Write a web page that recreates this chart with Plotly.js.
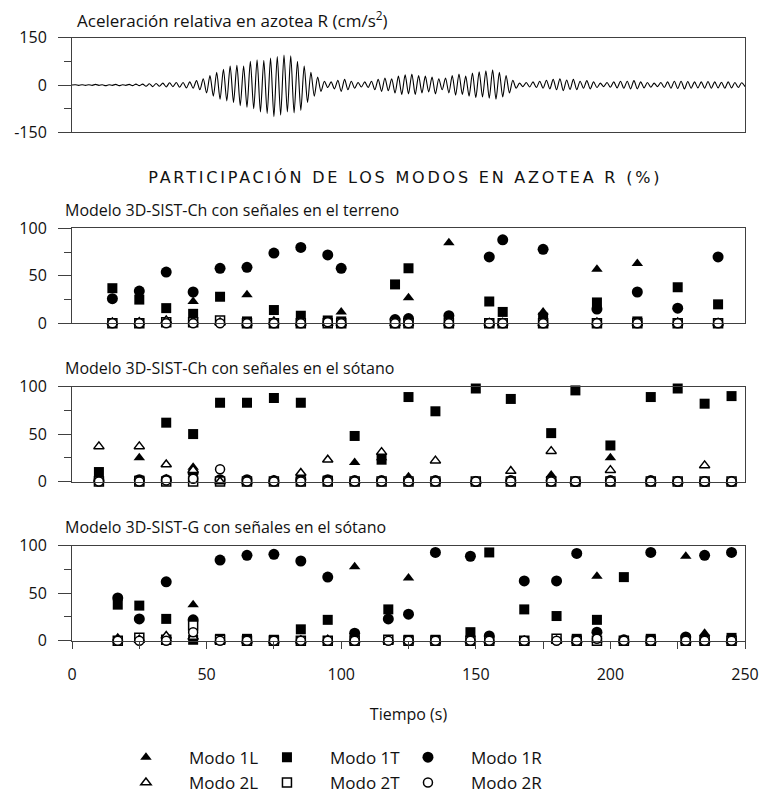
<!DOCTYPE html>
<html><head><meta charset="utf-8">
<script src="https://cdn.plot.ly/plotly-3.0.1.min.js"></script>
<style>
html,body{margin:0;padding:0;background:#fff}
#chart g.annotation[data-index="1"] text{letter-spacing:2.8px}
</style>
</head><body><div id="chart" style="width:761px;height:801px"></div>
<script>
// Acceleration record (cm/s2), peak values read every 1.25 s
const accelDt = 1.25;
const accel = [
 0,1,-1,1,-1,1,-1,2,-1,1,-2,1,-1,2,-2,1,-1,2,-2,3,-2,
 3,-4,4,-5,5,-4,6,-6,7,-5,8,-7,8,-9,10,-10,14,
 -15,20,-25,30,-35,40,-45,50,-50,60,
 -55,62,-65,60,-70,75,-75,80,-85,78,
 -90,85,-100,90,-95,95,-85,92,-88,75,
 -80,60,-55,40,-35,25,-20,12,-8,10,
 -12,15,-20,18,-15,12,-10,8,-6,10,
 -8,12,-15,18,-20,22,-18,20,-25,28,
 -30,32,-28,35,-30,30,-25,28,-22,25,
 -28,20,-15,22,-25,30,-32,35,-30,28,
 -35,38,-40,42,-38,45,-42,48,-45,40,
 -38,30,-25,15,-10,6,-5,8,-6,10,
 -8,12,-10,15,-12,18,-15,20,-18,16,
 -14,18,-15,12,-10,14,-12,10,-8,6,
 -5,8,-7,10,-9,12,-10,12,-12,14,
 -12,10,-9,8,-7,6,-5,8,-8,10,
 -10,12,-11,12,-12,11,-10,10,-9,10,
 -10,11,-10,10,-9,9,-10,10,-9,8,
 -8,7,-5
];
const accelTicks = [-150, 0, 150];
const accelTickText = ['-150', '0', '150'];

// Modelo 3D-SIST-Ch con señales en el terreno (%)
const tTerreno = [15,25,35,45,55,65,75,85,95,100,120,125,140,155,160,175,195,210,225,240];
const terreno1L = [1,2,3,23,1,30,1,1,0,12,0,27,85,1,1,12,57,63,0,1];
const terreno1T = [37,25,16,10,28,2,14,8,3,2,41,58,2,23,12,6,22,2,38,20];
const terreno1R = [26,34,54,33,58,59,74,80,72,58,4,5,8,70,88,78,15,33,16,70];
const terreno2L = [1,1,3,2,1,0,2,0,0,0,0,0,0,0,0,0,1,0,1,0];
const terreno2T = [0,0,1,1,3,0,0,0,0,0,0,0,0,0,0,0,0,0,0,0];
const terreno2R = [0,0,0,0,0,0,0,0,1,0,0,0,0,0,0,0,0,0,0,0];

// Modelo 3D-SIST-Ch con señales en el sótano (%)
const tSotanoCh = [10,25,35,45,55,65,75,85,95,105,115,125,135,150,163,178,187,200,215,225,235,245];
const sotanoCh1L = [2,25,3,15,1,1,0,1,1,20,25,5,0,0,0,7,0,25,1,0,0,0];
const sotanoCh1T = [10,1,62,50,83,83,88,83,1,48,23,89,74,98,87,51,96,38,89,98,82,90];
const sotanoCh1R = [1,2,2,9,2,2,1,2,2,1,1,1,1,0,1,1,0,1,1,0,0,0];
const sotanoCh2L = [37,37,18,12,0,0,1,9,23,0,31,0,22,0,11,32,0,12,0,0,17,0];
const sotanoCh2T = [0,0,0,0,0,0,0,0,0,0,0,0,0,0,0,0,0,0,0,0,0,0];
const sotanoCh2R = [0,0,1,3,13,0,0,0,0,0,0,0,0,0,0,0,0,0,0,0,0,0];

// Modelo 3D-SIST-G con señales en el sótano (%)
const tSotanoG = [17,25,35,45,55,65,75,85,95,105,117.5,125,135,148,155,168,180,187.5,195,205,215,228,235,245];
const sotanoG1L = [3,1,2,38,0,0,0,1,1,78,1,66,0,1,1,0,1,1,68,1,1,89,8,1];
const sotanoG1T = [38,37,23,1,2,2,1,12,22,1,33,1,1,9,93,33,26,2,22,67,2,1,1,3];
const sotanoG1R = [45,23,62,22,85,90,91,84,67,8,23,28,93,89,5,63,63,92,9,1,93,4,90,93];
const sotanoG2L = [1,1,5,4,0,0,0,0,1,0,0,0,0,0,0,0,0,0,1,0,0,0,0,0];
const sotanoG2T = [0,3,1,16,1,0,0,0,0,0,1,0,0,0,0,0,2,0,0,0,0,0,0,0];
const sotanoG2R = [0,0,0,9,0,0,0,0,0,0,0,0,0,0,0,0,0,0,2,0,0,0,0,0];

const FONT = 'Open Sans, DejaVu Sans, sans-serif';
const styles = {
  'Modo 1L': {symbol:'triangle-up', size:10, filled:true, legend:'legend', rank:1, lw:50},
  'Modo 1T': {symbol:'square', size:10, filled:true, legend:'legend', rank:2, lw:50},
  'Modo 1R': {symbol:'circle', size:11, filled:true, legend:'legend', rank:3, lw:80},
  'Modo 2L': {symbol:'triangle-up', size:9, filled:false, legend:'legend2', rank:4, lw:50},
  'Modo 2T': {symbol:'square', size:9, filled:false, legend:'legend2', rank:5, lw:50},
  'Modo 2R': {symbol:'circle', size:9, filled:false, legend:'legend2', rank:6, lw:80}
};

const panels = [
  {x: tTerreno, ys: {'Modo 1L':terreno1L,'Modo 1T':terreno1T,'Modo 1R':terreno1R,'Modo 2L':terreno2L,'Modo 2T':terreno2T,'Modo 2R':terreno2R}, ax:'2'},
  {x: tSotanoCh, ys: {'Modo 1L':sotanoCh1L,'Modo 1T':sotanoCh1T,'Modo 1R':sotanoCh1R,'Modo 2L':sotanoCh2L,'Modo 2T':sotanoCh2T,'Modo 2R':sotanoCh2R}, ax:'3'},
  {x: tSotanoG, ys: {'Modo 1L':sotanoG1L,'Modo 1T':sotanoG1T,'Modo 1R':sotanoG1R,'Modo 2L':sotanoG2L,'Modo 2T':sotanoG2T,'Modo 2R':sotanoG2R}, ax:'4'}
];

const traces = [{
  type:'scatter', mode:'lines', x0:0, dx:accelDt, y:accel,
  line:{color:'#000', width:1.1, shape:'spline', smoothing:0.8},
  xaxis:'x', yaxis:'y', showlegend:false, hoverinfo:'skip'
}];

const drawOrder = ['Modo 1L','Modo 1T','Modo 1R','Modo 2T','Modo 2L','Modo 2R'];
panels.forEach((p, pi) => {
  drawOrder.forEach(name => {
    const s = styles[name];
    traces.push({
      type:'scatter', mode:'markers', name:name,
      x:p.x, y:p.ys[name],
      xaxis:'x'+p.ax, yaxis:'y'+p.ax,
      cliponaxis:false,
      legendgroup:name, legend:s.legend, legendrank:s.rank, legendwidth:s.lw,
      showlegend: pi === 0,
      marker: s.filled
        ? {symbol:s.symbol, size:s.size, color:'#000', line:{width:0}}
        : {symbol:s.symbol, size:s.size, color:'#fff', line:{color:'#000', width:1.5}}
    });
  });
});

const H = 801;
const dom = (top, bot) => [1 - bot/H, 1 - top/H];
const lineCol = '#404040';
const tickFont = {size:16, color:'#111', family:FONT};
const baseX = {range:[0,250], showline:true, mirror:true, linecolor:lineCol, linewidth:1,
  showgrid:false, zeroline:false, ticks:'', showticklabels:false, fixedrange:true};
const baseY = {range:[0,100], showline:true, mirror:true, linecolor:lineCol, linewidth:1,
  showgrid:false, zeroline:false, ticks:'outside', ticklen:13, tickcolor:lineCol, tick0:0, dtick:50,
  ticklabelstandoff:8,
  minor:{dtick:25, ticks:'outside', ticklen:7, tickcolor:lineCol},
  tickfont:tickFont, fixedrange:true};
const legendCommon = {orientation:'h', x:0.046, xanchor:'left', yanchor:'top',
  itemwidth:76, traceorder:'normal',
  font:{size:17, color:'#111', family:FONT}, bgcolor:'rgba(0,0,0,0)'};

const layout = {
  width:761, height:801,
  margin:{l:72, r:16, t:0, b:0},
  paper_bgcolor:'#fff', plot_bgcolor:'#fff',
  font:{family:FONT, color:'#111', size:16},
  showlegend:true,
  xaxis: Object.assign({}, baseX, {domain:[0,1], anchor:'y'}),
  yaxis: Object.assign({}, baseY, {domain:dom(38,134), anchor:'x', range:[-150,150],
    tickmode:'array', tickvals:accelTicks, ticktext:accelTickText,
    minor:{tickmode:'array', tickvals:[-75,75], ticks:'outside', ticklen:7, tickcolor:lineCol}}),
  xaxis2: Object.assign({}, baseX, {domain:[0,1], anchor:'y2'}),
  yaxis2: Object.assign({}, baseY, {domain:dom(231,327), anchor:'x2'}),
  xaxis3: Object.assign({}, baseX, {domain:[0,1], anchor:'y3'}),
  yaxis3: Object.assign({}, baseY, {domain:dom(391,487), anchor:'x3'}),
  xaxis4: Object.assign({}, baseX, {domain:[0,1], anchor:'y4', ticks:'outside', ticklen:7, tickcolor:lineCol,
    showticklabels:true, tick0:0, dtick:50, ticklabelstandoff:12,
    minor:{dtick:25, ticks:'outside', ticklen:7, tickcolor:lineCol},
    tickfont:tickFont,
    title:{text:'Tiempo (s)', font:{size:16, color:'#111', family:FONT}, standoff:24}}),
  yaxis4: Object.assign({}, baseY, {domain:dom(552,648), anchor:'x4'}),
  legend: Object.assign({}, legendCommon, {y:1-748/H}),
  legend2: Object.assign({}, legendCommon, {y:1-774/H}),
  annotations:[
    {text:'Aceleración relativa en azotea R (cm/s<sup>2</sup>)', xref:'paper', yref:'paper',
     x:(75-72)/673, y:1-20/H, xanchor:'left', yanchor:'middle', showarrow:false, font:{size:17}},
    {text:'PARTICIPACIÓN DE LOS MODOS EN AZOTEA R (%)', xref:'paper', yref:'paper',
     x:(405-72)/673, y:1-180/H, xanchor:'center', yanchor:'middle', showarrow:false,
     font:{size:16, family:'DejaVu Sans, sans-serif'}},
    {text:'Modelo 3D-SIST-Ch con señales en el terreno', xref:'paper', yref:'paper',
     x:(63-72)/673, y:1-212/H, xanchor:'left', yanchor:'middle', showarrow:false, font:{size:16}},
    {text:'Modelo 3D-SIST-Ch con señales en el sótano', xref:'paper', yref:'paper',
     x:(63-72)/673, y:1-372/H, xanchor:'left', yanchor:'middle', showarrow:false, font:{size:16}},
    {text:'Modelo 3D-SIST-G con señales en el sótano', xref:'paper', yref:'paper',
     x:(63-72)/673, y:1-533/H, xanchor:'left', yanchor:'middle', showarrow:false, font:{size:16}}
  ]
};

Plotly.newPlot('chart', traces, layout, {staticPlot:true, displayModeBar:false});
</script>
</body></html>
